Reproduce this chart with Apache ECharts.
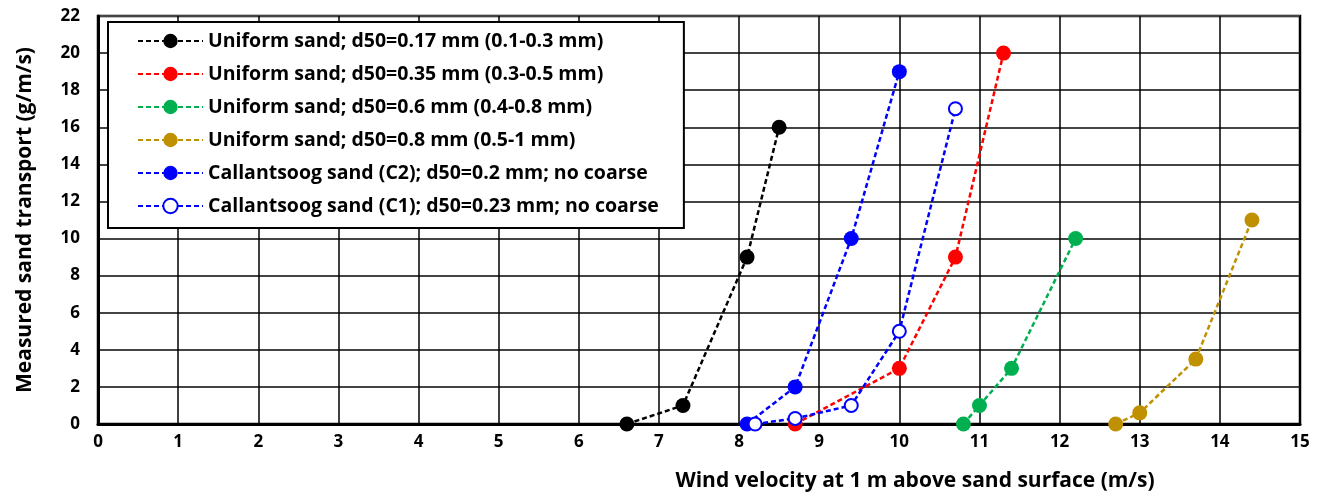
<!DOCTYPE html>
<html>
<head>
<meta charset="utf-8">
<script src="https://cdn.jsdelivr.net/npm/echarts@6/dist/echarts.min.js"></script>
<style>
  html, body { margin: 0; padding: 0; background: #fff; }
  #chart { width: 1326px; height: 499px; }
</style>
</head>
<body>
<div id="chart"></div>
<script>
// data: [wind velocity m/s, transport g/m/s]
var seriesNames = [
  'Uniform sand; d50=0.17 mm (0.1-0.3 mm)',
  'Uniform sand; d50=0.35 mm (0.3-0.5 mm)',
  'Uniform sand; d50=0.6 mm (0.4-0.8 mm)',
  'Uniform sand; d50=0.8 mm (0.5-1 mm)',
  'Callantsoog sand (C2); d50=0.2 mm; no coarse',
  'Callantsoog sand (C1); d50=0.23 mm; no coarse'
];
var sand017 = [[6.6, 0], [7.3, 1], [8.1, 9], [8.5, 16]];
var sand035 = [[8.7, 0], [10, 3], [10.7, 9], [11.3, 20]];
var sand06  = [[10.8, 0], [11, 1], [11.4, 3], [12.2, 10]];
var sand08  = [[12.7, 0], [13, 0.6], [13.7, 3.5], [14.4, 11]];
var callC2  = [[8.1, 0], [8.7, 2], [9.4, 10], [10, 19]];
var callC1  = [[8.2, 0], [8.7, 0.3], [9.4, 1], [10, 5], [10.7, 17]];

var colors = ['#000000', '#ff0000', '#00b050', '#bf9000', '#0000ff', '#0000ff'];
var allData = [sand017, sand035, sand06, sand08, callC2, callC1];

var font = 'Open Sans';

var series = [];
for (var i = 0; i < allData.length; i++) {
  var empty = (i == 5);
  series.push({
    name: seriesNames[i],
    type: 'line',
    data: allData[i],
    clip: false,
    symbol: empty ? 'emptyCircle' : 'circle',
    symbolSize: empty ? 13 : 15,
    lineStyle: { color: colors[i], width: 2.5, type: [5, 3] },
    itemStyle: empty ? { color: colors[i], borderColor: colors[i], borderWidth: 2.5 }
                     : { color: colors[i], borderWidth: 0 },
    emphasis: { disabled: true }
  });
}

var myChart = echarts.init(document.getElementById('chart'));
var option = {
  animation: false,
  backgroundColor: '#fff',
  grid: {
    left: 98, right: 26, top: 16, bottom: 75,
    show: true, borderColor: '#000', borderWidth: 2.5, backgroundColor: 'transparent'
  },
  legend: {
    orient: 'vertical',
    left: 108, top: 22,
    backgroundColor: '#fff',
    borderColor: '#000',
    borderWidth: 2,
    borderRadius: 0,
    padding: [9, 25, 12, 29],
    itemGap: 13,
    itemWidth: 65,
    itemHeight: 18,
    textStyle: { fontFamily: font, fontWeight: 'bold', fontSize: 19.5, color: '#000', lineHeight: 20 },
    data: seriesNames
  },
  xAxis: {
    type: 'value',
    min: 0, max: 15, interval: 1,
    name: 'Wind velocity at 1 m above sand surface (m/s)',
    nameLocation: 'middle',
    nameGap: 47,
    nameTextStyle: { fontFamily: font, fontWeight: 'bold', fontSize: 21, color: '#000', padding: [0, 0, 0, 432] },
    axisLine: { lineStyle: { color: '#000', width: 3 } },
    axisTick: { show: false },
    axisLabel: { fontFamily: font, fontWeight: 'bold', fontSize: 17, color: '#000', margin: 10 },
    splitLine: { lineStyle: { color: '#000', width: 1.5 } }
  },
  yAxis: {
    type: 'value',
    min: 0, max: 22, interval: 2,
    name: 'Measured sand transport (g/m/s)',
    nameLocation: 'middle',
    nameGap: 62,
    nameTextStyle: { fontFamily: font, fontWeight: 'bold', fontSize: 21, color: '#000' },
    axisLine: { show: true, lineStyle: { color: '#000', width: 3 } },
    axisTick: { show: false },
    axisLabel: { fontFamily: font, fontWeight: 'bold', fontSize: 17, color: '#000', margin: 18 },
    splitLine: { lineStyle: { color: '#444', width: 2 } }
  },
  series: series
};
myChart.setOption(option);
</script>
</body>
</html>
